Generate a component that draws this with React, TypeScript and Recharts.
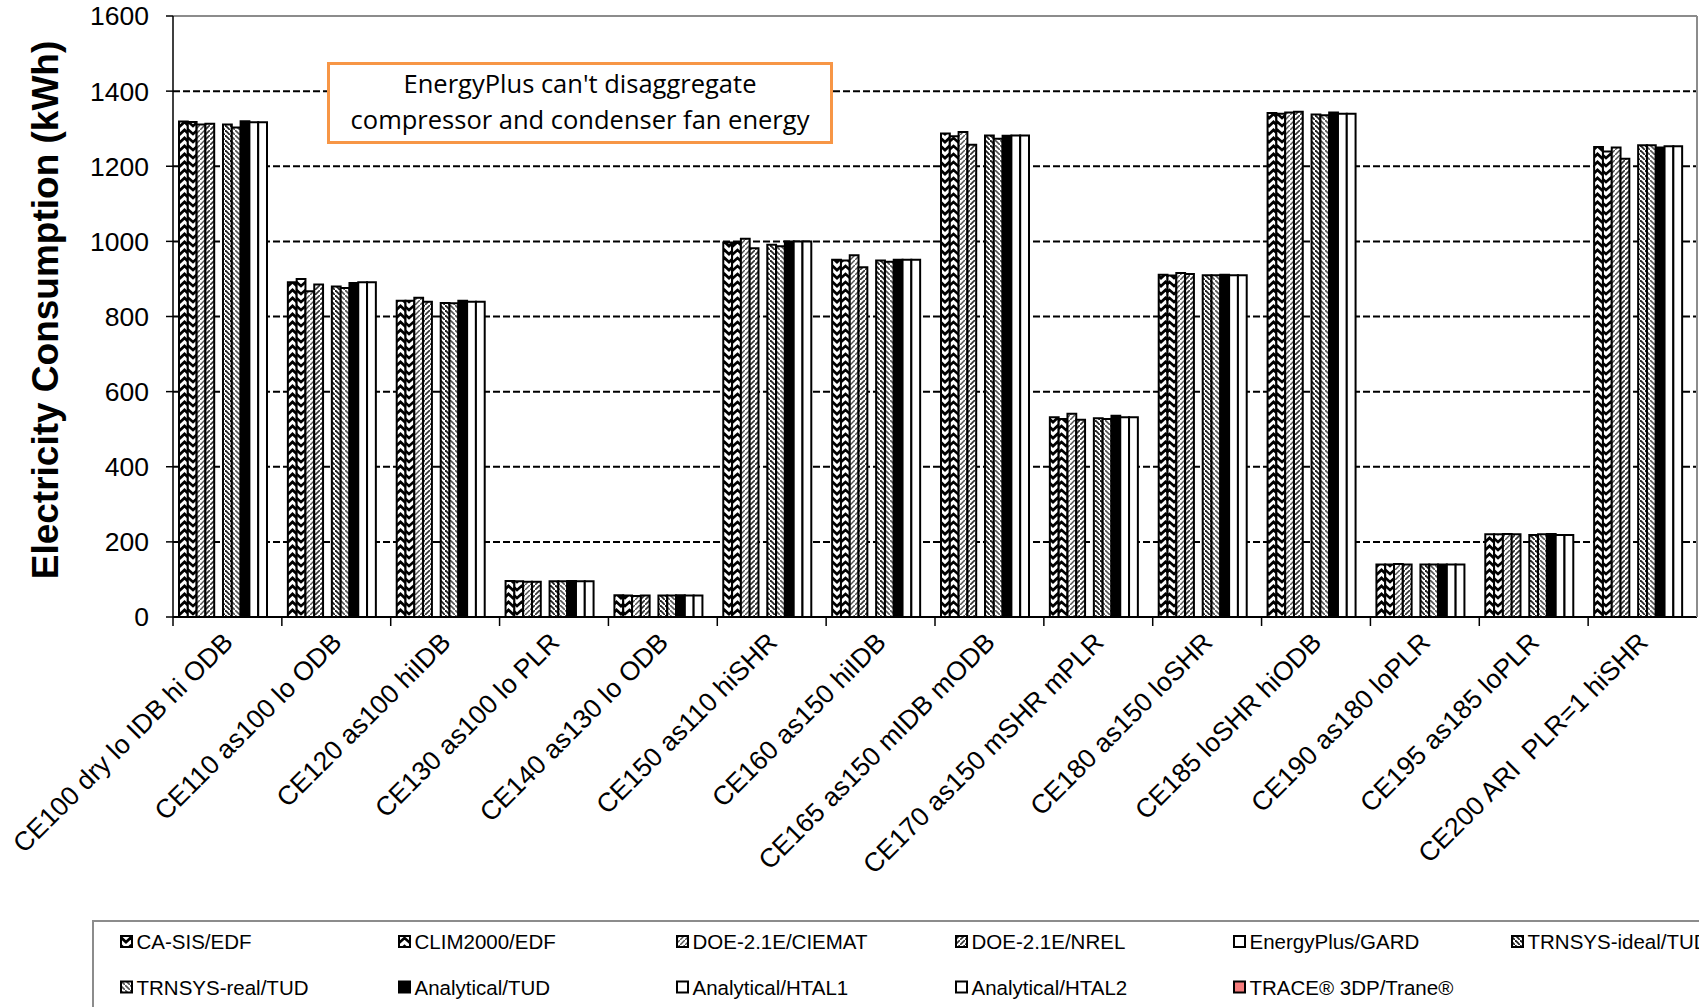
import React from "react";
import {
  BarChart,
  Bar,
  XAxis,
  YAxis,
  CartesianGrid,
  ReferenceLine,
} from "recharts";

const categories = [
  "CE100 dry lo IDB hi ODB",
  "CE110 as100 lo ODB",
  "CE120 as100 hiIDB",
  "CE130 as100 lo PLR",
  "CE140 as130 lo ODB",
  "CE150 as110 hiSHR",
  "CE160 as150 hiIDB",
  "CE165 as150 mIDB mODB",
  "CE170 as150 mSHR mPLR",
  "CE180 as150 loSHR",
  "CE185 loSHR hiODB",
  "CE190 as180 loPLR",
  "CE195 as185 loPLR",
  "CE200 ARI  PLR=1 hiSHR",
];

const caSis = [1319, 891, 842, 96, 58, 997, 951, 1287, 532, 911, 1342, 140, 220, 1251];
const clim2000 = [1318, 900, 842, 95, 57, 996, 949, 1280, 527, 909, 1340, 140, 220, 1239];
const doeCiemat = [1311, 867, 850, 94, 56, 1007, 963, 1291, 541, 916, 1343, 141, 221, 1250];
const doeNrel = [1313, 885, 839, 94, 57, 982, 931, 1257, 525, 913, 1345, 140, 220, 1220];
const energyPlus: (number | null)[] = categories.map(() => null);
const trnsysIdeal = [1311, 880, 836, 95, 57, 991, 949, 1282, 529, 910, 1338, 140, 218, 1256];
const trnsysReal = [1303, 876, 835, 95, 57, 987, 946, 1273, 527, 910, 1336, 140, 220, 1256];
const analyticalTud = [1320, 889, 842, 96, 58, 1000, 951, 1281, 536, 911, 1343, 140, 221, 1250];
const analyticalHtal1 = [1317, 891, 839, 95, 57, 1000, 951, 1282, 532, 910, 1340, 140, 218, 1253];
const analyticalHtal2 = [1317, 891, 839, 95, 57, 1000, 951, 1282, 532, 910, 1340, 140, 218, 1253];
const trace: (number | null)[] = categories.map(() => null);

const yTicks = [0, 200, 400, 600, 800, 1000, 1200, 1400, 1600];

const seriesNames = [
  "CA-SIS/EDF",
  "CLIM2000/EDF",
  "DOE-2.1E/CIEMAT",
  "DOE-2.1E/NREL",
  "EnergyPlus/GARD",
  "TRNSYS-ideal/TUD",
  "TRNSYS-real/TUD",
  "Analytical/TUD",
  "Analytical/HTAL1",
  "Analytical/HTAL2",
  "TRACE® 3DP/Trane®",
];
const seriesValues = [
  caSis,
  clim2000,
  doeCiemat,
  doeNrel,
  energyPlus,
  trnsysIdeal,
  trnsysReal,
  analyticalTud,
  analyticalHtal1,
  analyticalHtal2,
  trace,
];
const seriesFills = [
  "url(#zigA)",
  "url(#zigB)",
  "url(#diagA)",
  "url(#diagB)",
  "#ffffff",
  "url(#backA)",
  "url(#backB)",
  "#000000",
  "#ffffff",
  "#ffffff",
  "#F47C7C",
];

const data = categories.map((c, i) => {
  const row: Record<string, any> = { name: c };
  seriesNames.forEach((s, k) => {
    row["s" + k] = seriesValues[k][i];
  });
  return row;
});

const W = 1699;
const H = 1007;
const M = { top: 16, right: 1, left: 93, bottom: 100 };
const YW = 80;
const RYW = 1;
const XH = 290;
const BW = (W - M.left - YW - M.right - RYW) / categories.length;

const FONT = "'Liberation Sans', Arial, sans-serif";

const XTick = (props: any) => {
  const { x, y, payload } = props;
  const lx = x - BW / 2;
  const tx = x + 7;
  const ty = y + 27;
  return (
    <g>
      <line x1={lx} y1={y} x2={lx} y2={y + 9} stroke="#000" strokeWidth={1.5} />
      <text
        x={tx}
        y={ty}
        textAnchor="end"
        transform={`rotate(-45 ${tx} ${ty})`}
        fontFamily={FONT}
        fontSize={26.5}
        fill="#000"
        style={{ whiteSpace: "pre" }}
      >
        {payload.value}
      </text>
    </g>
  );
};

const Patterns = () => (
  <svg width={0} height={0} style={{ position: "absolute" }}>
    <defs>
      <pattern id="zigA" patternUnits="userSpaceOnUse" width={9} height={8}>
        <rect width={9} height={8} fill="#fff" />
        <path d="M-1,7 L4.5,2 L10,7" stroke="#000" strokeWidth={2.8} fill="none" />
      </pattern>
      <pattern id="zigB" patternUnits="userSpaceOnUse" width={9} height={8} x={4}>
        <rect width={9} height={8} fill="#fff" />
        <path d="M-1,7 L4.5,2 L10,7" stroke="#000" strokeWidth={2.6} fill="none" />
      </pattern>
      <pattern id="diagA" patternUnits="userSpaceOnUse" width={5} height={5}>
        <rect width={5} height={5} fill="#fff" />
        <path d="M-1,6 L6,-1" stroke="#555" strokeWidth={1.5} />
      </pattern>
      <pattern id="diagB" patternUnits="userSpaceOnUse" width={5} height={5}>
        <rect width={5} height={5} fill="#fff" />
        <path d="M-1,6 L6,-1" stroke="#333" strokeWidth={1.6} />
      </pattern>
      <pattern id="backA" patternUnits="userSpaceOnUse" width={5} height={5}>
        <rect width={5} height={5} fill="#fff" />
        <path d="M-1,-1 L6,6" stroke="#222" strokeWidth={1.8} />
      </pattern>
      <pattern id="backB" patternUnits="userSpaceOnUse" width={5} height={5}>
        <rect width={5} height={5} fill="#fff" />
        <path d="M-1,-1 L6,6" stroke="#555" strokeWidth={1.6} />
      </pattern>
    </defs>
  </svg>
);

const legendCols = [121, 399, 677, 956, 1234, 1512];
const legendRows = [941.5, 987];

export default function App() {
  return (
    <div
      style={{
        position: "absolute",
        left: 0,
        top: 0,
        width: W,
        height: H,
        background: "#fff",
        overflow: "hidden",
      }}
    >
      <Patterns />
      <BarChart
        width={W}
        height={H}
        data={data}
        margin={M}
        barCategoryGap={0}
        barGap={0}
        barSize={8.8}
      >
        <CartesianGrid
          vertical={false}
          stroke="#000"
          strokeWidth={2}
          strokeDasharray="7 3"
        />
        <ReferenceLine y={1600} stroke="#8c8c8c" strokeWidth={2} />
        <XAxis
          dataKey="name"
          interval={0}
          height={XH}
          tickLine={false}
          tickSize={0}
          tickMargin={0}
          axisLine={{ stroke: "#000", strokeWidth: 2 }}
          tick={<XTick />}
        />
        <YAxis
          width={YW}
          domain={[0, 1600]}
          ticks={yTicks}
          interval={0}
          tickSize={7}
          tickMargin={17}
          axisLine={{ stroke: "#000", strokeWidth: 1.5 }}
          tickLine={{ stroke: "#000", strokeWidth: 1.5 }}
          tick={{ fontFamily: FONT, fontSize: 26.5, fill: "#000" }}
        />
        <YAxis
          yAxisId="right"
          orientation="right"
          width={RYW}
          domain={[0, 1600]}
          tick={false}
          tickLine={false}
          axisLine={{ stroke: "#8c8c8c", strokeWidth: 2 }}
        />
        {seriesNames.map((s, k) => (
          <Bar
            key={s}
            dataKey={"s" + k}
            name={s}
            fill={seriesFills[k]}
            stroke="#000"
            strokeWidth={2}
            isAnimationActive={false}
          />
        ))}
      </BarChart>

      <div
        style={{
          position: "absolute",
          left: 46,
          top: 310,
          transform: "translate(-50%, -50%) rotate(-90deg)",
          fontFamily: FONT,
          fontWeight: "bold",
          fontSize: 37,
          whiteSpace: "nowrap",
          color: "#000",
        }}
      >
        Electricity Consumption (kWh)
      </div>

      <div
        style={{
          position: "absolute",
          left: 327,
          top: 62,
          width: 506,
          height: 82,
          boxSizing: "border-box",
          border: "3px solid #F79646",
          background: "#fff",
          display: "flex",
          flexDirection: "column",
          justifyContent: "center",
          alignItems: "center",
          paddingBottom: 5,
          fontFamily: "'Open Sans', sans-serif",
          fontSize: 25.5,
          lineHeight: "36px",
          color: "#000",
          whiteSpace: "nowrap",
        }}
      >
        <div>EnergyPlus can't disaggregate</div>
        <div>compressor and condenser fan energy</div>
      </div>

      <div
        style={{
          position: "absolute",
          left: 92,
          top: 920,
          width: 1700,
          height: 200,
          boxSizing: "border-box",
          border: "2px solid #8c8c8c",
        }}
      />
      <svg
        width={W}
        height={H}
        style={{ position: "absolute", left: 0, top: 0, pointerEvents: "none" }}
      >
        {seriesNames.map((s, k) => {
          const col = k < 6 ? k : k - 6;
          const row = k < 6 ? 0 : 1;
          const x = legendCols[col];
          const y = legendRows[row];
          return (
            <g key={s}>
              <rect
                x={x}
                y={y - 5.5}
                width={11}
                height={11}
                fill={seriesFills[k]}
                stroke="#000"
                strokeWidth={2}
              />
              <text
                x={x + 15.5}
                y={y}
                dominantBaseline="central"
                fontFamily={FONT}
                fontSize={20.5}
                fill="#000"
              >
                {s}
              </text>
            </g>
          );
        })}
      </svg>
    </div>
  );
}
